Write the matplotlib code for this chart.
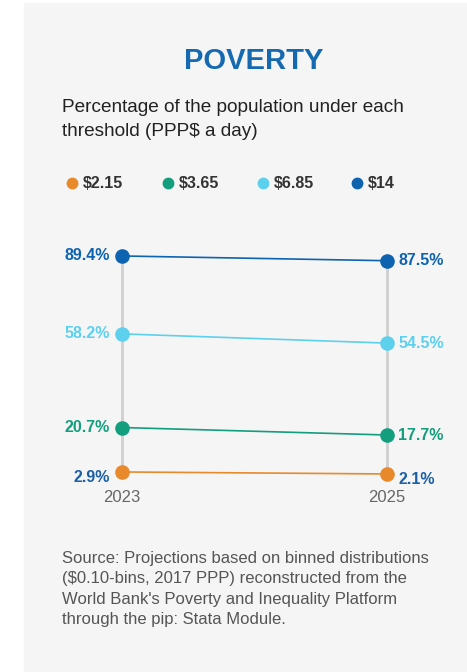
import matplotlib.pyplot as plt
from matplotlib.patches import Rectangle
from matplotlib.lines import Line2D

plt.rcParams['font.family'] = ['Liberation Sans', 'DejaVu Sans']

years = ['2023', '2025']
thresholds = ['$2.15', '$3.65', '$6.85', '$14']
values_2023 = [2.9, 20.7, 58.2, 89.4]
values_2025 = [2.1, 17.7, 54.5, 87.5]

colors = ['#e8892b', '#139e7e', '#5dd0ee', '#0e63b0']
label_colors = ['#1b5fa6', '#139e7e', '#5dd0ee', '#0e63b0']
label_dy = [-4, 0, 0, 0]  # points, the $2.15 labels sit a bit lower

W, H = 467, 672
fig = plt.figure(figsize=(W / 100, H / 100), dpi=100)
fig.patch.set_facecolor('white')
fig.patches.append(Rectangle((24 / W, 0), 1 - 24 / W, (H - 3) / H,
                             transform=fig.transFigure, color='#f5f5f5', zorder=-1))

fig.text(254 / W, 1 - 61 / H, 'POVERTY', ha='center', va='center',
         fontsize=21, fontweight='bold', color='#1469b0')
fig.text(62 / W, 1 - 107 / H, 'Percentage of the population under each',
         ha='left', va='center', fontsize=13.7, color='#222222')
fig.text(62 / W, 1 - 132 / H, 'threshold (PPP$ a day)',
         ha='left', va='center', fontsize=13.7, color='#222222')

# legend
leg_x = [72, 168, 263, 357]
for i, name in enumerate(thresholds):
    fig.add_artist(Line2D([leg_x[i] / W], [1 - 183 / H], marker='o', markersize=7.5,
                          color=colors[i], linestyle='none', transform=fig.transFigure))
    fig.text((leg_x[i] + 11) / W, 1 - 183 / H, name, ha='left', va='center',
             fontsize=11.5, fontweight='bold', color='#333333')

# chart area: x 0..1 -> 122..387 px, y 0..100 -> 479..229.5 px
ax = fig.add_axes([122 / W, 1 - 479.2 / H, (387 - 122) / W, (479.2 - 229.5) / H])
ax.set_zorder(2)
ax.set_xlim(0, 1)
ax.set_ylim(0, 100)
ax.axis('off')

xs = [0, 1]
ax.vlines(0, min(values_2023), max(values_2023), color='#cfcfcf', linewidth=2,
          zorder=1, clip_on=False)
ax.vlines(1, min(values_2025), max(values_2025), color='#cfcfcf', linewidth=2,
          zorder=1, clip_on=False)

for i in range(len(thresholds)):
    ax.plot(xs, [values_2023[i], values_2025[i]], color=colors[i], linewidth=1.2,
            marker='o', markersize=9.5, clip_on=False, zorder=3)
    ax.annotate(f'{values_2023[i]}%', (0, values_2023[i]), xytext=(-9, label_dy[i]),
                textcoords='offset points', ha='right', va='center',
                fontsize=11.5, fontweight='bold', color=label_colors[i])
    ax.annotate(f'{values_2025[i]}%', (1, values_2025[i]), xytext=(8, label_dy[i]),
                textcoords='offset points', ha='left', va='center',
                fontsize=11.5, fontweight='bold', color=label_colors[i])

for x, yr in zip(xs, years):
    ax.annotate(yr, (x, 0), xytext=(0, -13.5), textcoords='offset points',
                ha='center', va='center', fontsize=12, color='#666666')

fig.text(62 / W, 1 - 589 / H,
         "Source: Projections based on binned distributions\n"
         "($0.10-bins, 2017 PPP) reconstructed from the\n"
         "World Bank's Poverty and Inequality Platform\n"
         "through the pip: Stata Module.",
         ha='left', va='center', fontsize=12, color='#555555', linespacing=1.47)

fig.savefig('out.png', dpi=100)
